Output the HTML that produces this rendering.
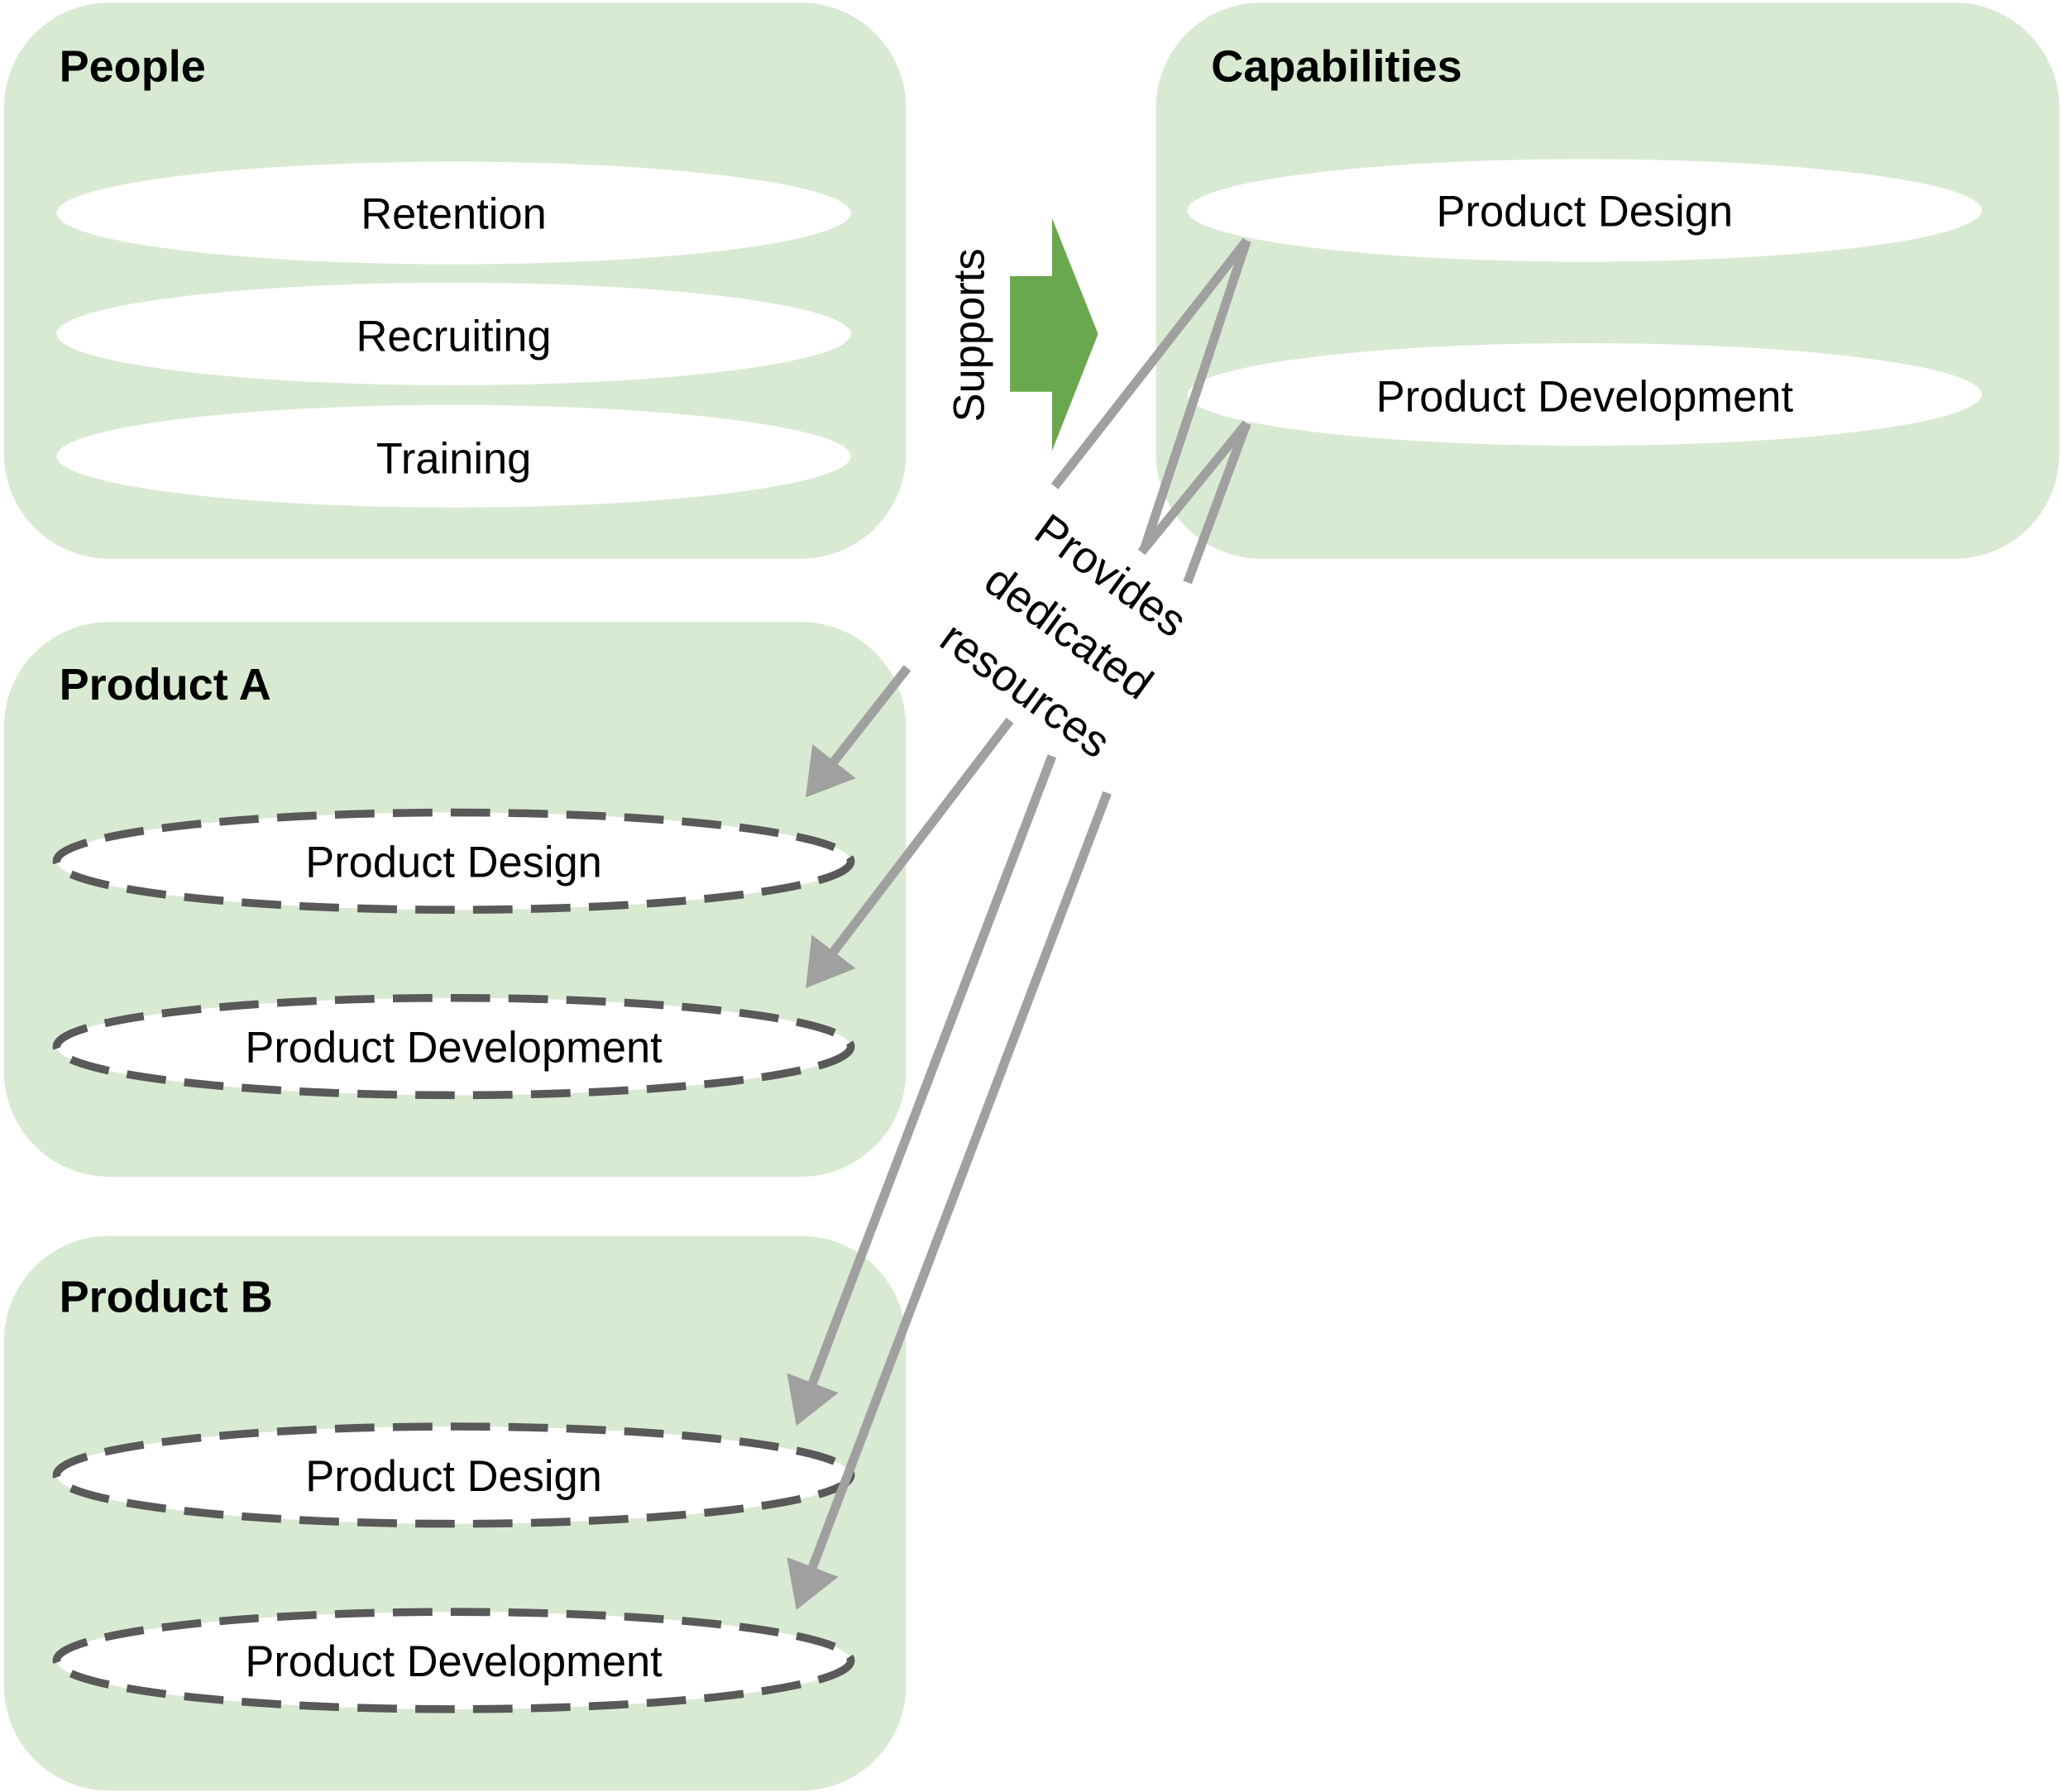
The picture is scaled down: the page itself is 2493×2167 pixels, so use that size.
<!DOCTYPE html>
<html><head><meta charset="utf-8"><style>
html,body{margin:0;padding:0;background:#fff;}
svg{display:block;}
text{font-family:"Liberation Sans",sans-serif;}
</style></head><body>
<svg width="2493" height="2167" viewBox="0 0 1568 1363" xmlns="http://www.w3.org/2000/svg">
<defs>
<marker id="ah" markerWidth="6" markerHeight="6" refX="4" refY="3" orient="auto" markerUnits="strokeWidth">
<path d="M0,0 L5,3 L0,6 z" fill="#a0a0a0"/>
</marker>
</defs>
<g fill="#d9ead3">
<rect x="3" y="2" width="686" height="423" rx="80"/>
<rect x="879" y="2" width="687" height="423" rx="80"/>
<rect x="3" y="473" width="686" height="422" rx="80"/>
<rect x="3" y="940" width="686" height="422" rx="80"/>
</g>
<g font-weight="bold" font-size="34" fill="#000">
<text x="45" y="62">People</text>
<text x="921" y="62">Capabilities</text>
<text x="45" y="532">Product A</text>
<text x="45" y="998">Product B</text>
</g>
<g fill="#fff">
<ellipse cx="345" cy="162" rx="302" ry="39"/>
<ellipse cx="345" cy="254" rx="302" ry="39"/>
<ellipse cx="345" cy="347" rx="302" ry="39"/>
<ellipse cx="1205" cy="160" rx="302" ry="39"/>
<ellipse cx="1205" cy="300" rx="302" ry="39"/>
</g>
<g fill="#fff" stroke="#595959" stroke-width="6" stroke-dasharray="30 14">
<ellipse cx="345" cy="655" rx="302" ry="37"/>
<ellipse cx="345" cy="796" rx="302" ry="37"/>
<ellipse cx="345" cy="1122" rx="302" ry="37"/>
<ellipse cx="345" cy="1263" rx="302" ry="37"/>
</g>
<g font-size="33" fill="#000" text-anchor="middle">
<text x="345" y="174">Retention</text>
<text x="345" y="267">Recruiting</text>
<text x="345" y="360">Training</text>
<text x="1205" y="172">Product Design</text>
<text x="1205" y="313">Product Development</text>
<text x="345" y="667">Product Design</text>
<text x="345" y="808">Product Development</text>
<text x="345" y="1134">Product Design</text>
<text x="345" y="1275">Product Development</text>
</g>
<path d="M768,210 L800,210 L800,166 L835,254 L800,343 L800,298 L768,298 z" fill="#6aa84f"/>
<text x="0" y="0" font-size="33" text-anchor="middle" transform="translate(748,255) rotate(-90)">Supports</text>
<g stroke="#a0a0a0" stroke-width="7" fill="none">
<line x1="948" y1="183" x2="802" y2="370"/>
<line x1="948" y1="183" x2="870" y2="418"/>
<line x1="948" y1="322" x2="868" y2="420"/>
<line x1="948" y1="322" x2="903" y2="443"/>
<line x1="690" y1="508" x2="617" y2="601" marker-end="url(#ah)"/>
<line x1="800" y1="575" x2="608" y2="1078" marker-end="url(#ah)"/>
<line x1="768" y1="548" x2="617" y2="746" marker-end="url(#ah)"/>
<line x1="842" y1="603" x2="608" y2="1218" marker-end="url(#ah)"/>
</g>
<g font-size="34" fill="#000" text-anchor="middle">
<text transform="translate(838,447) rotate(36)">Provides</text>
<text transform="translate(806,490) rotate(36)">dedicated</text>
<text transform="translate(773,534) rotate(36)">resources</text>
</g>
</svg>
</body></html>
